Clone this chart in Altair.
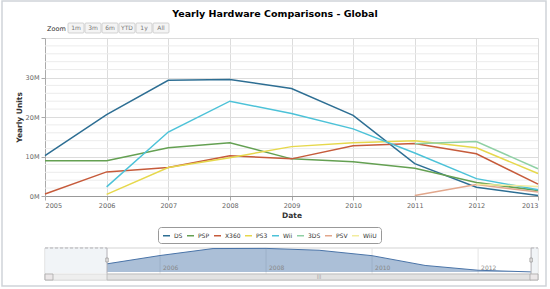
import altair as alt
import pandas as pd

# ---------------- data ----------------
years = [2005, 2006, 2007, 2008, 2009, 2010, 2011, 2012, 2013]
series_names = ["DS", "PSP", "X360", "PS3", "Wii", "3DS", "PSV", "WiiU"]
series_colors = ["#2d6e93", "#64a052", "#c65b3b", "#e6d84c", "#4cc2d8", "#8fd0a4", "#e2a78c", "#f2ec9e"]

ds   = [10.2, 20.6, 29.3, 29.5, 27.2, 20.4, 8.2, 2.2, 0.1]
psp  = [8.9, 8.9, 12.2, 13.5, 9.4, 8.7, 7.0, 3.4, 1.4]
x360 = [0.5, 6.1, 7.2, 10.2, 9.4, 12.7, 13.3, 10.7, 3.0]
ps3  = [None, 0.4, 7.2, 9.7, 12.5, 13.5, 14.0, 12.2, 5.7]
wii  = [None, 2.3, 16.2, 24.0, 20.9, 17.0, 10.9, 4.4, 1.6]
n3ds = [None, None, None, None, None, None, 13.2, 13.8, 6.9]
psv  = [None, None, None, None, None, None, 0.1, 2.9, 1.0]
wiiu = [None, None, None, None, None, None, None, 3.0, 2.4]

y_major = [0, 10, 20, 30, 40]
y_minor = [2, 4, 6, 8, 12, 14, 16, 18, 22, 24, 26, 28, 32, 34, 36, 38]
nav_ticks = [2006, 2008, 2010, 2012]
zoom_labels = ["1m", "3m", "6m", "YTD", "1y", "All"]
title_text = "Yearly Hardware Comparisons - Global"

all_series = [ds, psp, x360, ps3, wii, n3ds, psv, wiiu]
rows = []
for name, vals in zip(series_names, all_series):
    for yr, v in zip(years, vals):
        if v is not None:
            rows.append({"series": name, "year": yr, "value": v})
df = pd.DataFrame(rows)
nav_df = pd.DataFrame({"year": years, "value": ds})

FONT = "DejaVu Sans"
W, H = 493, 158
one = pd.DataFrame({"k": [0]})

# ---------------- main plot ----------------
xs = alt.Scale(domain=[2005, 2013], nice=False, zero=False)
ys = alt.Scale(domain=[0, 40], nice=False)

y_axis = alt.Axis(values=y_major, title="Yearly Units", grid=True, gridColor="#dcdcdc",
                  labelExpr="datum.value == 40 ? '' : datum.value + 'M'",
                  labelFont=FONT, labelFontSize=6.5, labelColor="#666", labelPadding=2,
                  tickSize=4, tickColor="#aaa", domainColor="#aaa",
                  titleFont=FONT, titleFontSize=7.5, titleFontWeight="bold", titleColor="#333",
                  titlePadding=2)
x_axis = alt.Axis(values=years, format="d", title="Date", grid=True, gridColor="#dcdcdc",
                  labelFont=FONT, labelFontSize=6.5, labelColor="#666", labelPadding=2,
                  tickSize=4, tickColor="#aaa", domainColor="#999",
                  titleFont=FONT, titleFontSize=7.5, titleFontWeight="bold", titleColor="#333",
                  titlePadding=3)

frame = alt.Chart(one).mark_rect(fill=None, stroke="#cfd4d9", strokeWidth=1.5).encode(
    x=alt.value(-43), x2=alt.value(501), y=alt.value(-37), y2=alt.value(248)
)

minor = alt.Chart(pd.DataFrame({"v": y_minor})).mark_rule(color="#ececec", strokeWidth=1).encode(
    y=alt.Y("v:Q", scale=ys, axis=y_axis)
)

lines = alt.Chart(df).mark_line(strokeWidth=1.5).encode(
    x=alt.X("year:Q", scale=xs, axis=x_axis),
    y=alt.Y("value:Q", scale=ys, axis=y_axis),
    color=alt.Color("series:N", scale=alt.Scale(domain=series_names, range=series_colors),
                    legend=alt.Legend(orient="none", legendX=113, legendY=189, direction="horizontal",
                                      title=None, symbolType="stroke", symbolStrokeWidth=1.5,
                                      symbolSize=49, labelFont=FONT, labelFontSize=6, labelColor="#333",
                                      labelOffset=3, columnPadding=1, padding=4,
                                      strokeColor="#999", cornerRadius=3, fillColor="white")),
    order=alt.Order("year:Q"),
)

title = alt.Chart(one).mark_text(text=title_text, font=FONT, fontSize=9.5, fontWeight="bold",
                                 color="#000", align="center", baseline="middle").encode(
    x=alt.value(230), y=alt.value(-24)
)

zoom_word = alt.Chart(one).mark_text(text="Zoom", font=FONT, fontSize=6.5, color="#333",
                                     align="left", baseline="middle").encode(
    x=alt.value(2), y=alt.value(-9)
)

btn_df = pd.DataFrame({"label": zoom_labels, "i": list(range(len(zoom_labels)))})
btn_base = alt.Chart(btn_df).transform_calculate(
    bx="23 + 17 * datum.i", bx2="23 + 17 * datum.i + 16", bc="23 + 17 * datum.i + 8"
)
btn_rect = btn_base.mark_rect(fill="#f4f4f4", stroke="#c8c8c8", strokeWidth=0.8, cornerRadius=1).encode(
    x=alt.X("bx:Q", scale=None), x2="bx2:Q", y=alt.value(-15), y2=alt.value(-5)
)
btn_text = btn_base.mark_text(font=FONT, fontSize=6, color="#777", baseline="middle").encode(
    x=alt.X("bc:Q", scale=None), y=alt.value(-10), text="label:N"
)

main = alt.layer(frame, minor, lines, title, zoom_word, btn_rect, btn_text)

# ---------------- navigator ----------------
nxs = alt.Scale(domain=[2003.83, 2013.13], nice=False, zero=False)
nys = alt.Scale(domain=[0, 30], range=[234, 210], nice=False)

nav_bg = alt.Chart(one).mark_rect(fill="#ffffff", stroke="#c8c8c8", strokeWidth=0.8).encode(
    x=alt.value(0), x2=alt.value(493), y=alt.value(210), y2=alt.value(242)
)
nav_grid = alt.Chart(pd.DataFrame({"year": nav_ticks})).mark_rule(color="#e4e4e4").encode(
    x=alt.X("year:Q", scale=nxs, axis=None), y=alt.value(210), y2=alt.value(236)
)
nav_lab = alt.Chart(pd.DataFrame({"year": nav_ticks})).mark_text(
    font=FONT, fontSize=6, color="#888", align="left", baseline="middle", dx=3).encode(
    x=alt.X("year:Q", scale=nxs, axis=None), y=alt.value(230), text=alt.Text("year:Q", format="d")
)
nav_area = alt.Chart(nav_df).mark_area(color="#4572a7", fillOpacity=0.45,
                                       line=alt.LineConfig(color="#4a74a8", strokeWidth=1)).encode(
    x=alt.X("year:Q", scale=nxs, axis=None), y=alt.Y("value:Q", scale=nys, axis=None)
)
mask_df = pd.DataFrame({"a": [2003.83, 2013], "b": [2005, 2013.13]})
nav_mask = alt.Chart(mask_df).mark_rect(fill="#eef1f5", opacity=0.8).encode(
    x=alt.X("a:Q", scale=nxs, axis=None), x2="b:Q", y=alt.value(210), y2=alt.value(235)
)
outline_df = pd.DataFrame({"a": [2003.83, 2013], "b": [2005, 2013.13]})
nav_outline_top = alt.Chart(outline_df).mark_rule(color="#b2b1b6", strokeDash=[3, 2]).encode(
    x=alt.X("a:Q", scale=nxs, axis=None), x2="b:Q", y=alt.value(210)
)
sel_df = pd.DataFrame({"year": [2005, 2013]})
nav_outline_v = alt.Chart(sel_df).mark_rule(color="#b2b1b6").encode(
    x=alt.X("year:Q", scale=nxs, axis=None), y=alt.value(210), y2=alt.value(242)
)
track = alt.Chart(one).mark_rect(fill="#eeeeee", stroke="#d8d8d8", strokeWidth=0.8).encode(
    x=alt.value(0), x2=alt.value(493), y=alt.value(236), y2=alt.value(242)
)
thumb_df = pd.DataFrame({"a": [2005], "b": [2013]})
thumb = alt.Chart(thumb_df).mark_rect(fill="#e2e2e2", stroke="#b8b8b8", strokeWidth=0.8).encode(
    x=alt.X("a:Q", scale=nxs, axis=None), x2="b:Q", y=alt.value(236), y2=alt.value(242)
)
grip_df = pd.DataFrame({"c": [2009]})
grip = alt.Chart(grip_df).mark_text(text="|||", font=FONT, fontSize=4.5, color="#888", baseline="middle").encode(
    x=alt.X("c:Q", scale=nxs, axis=None), y=alt.value(239)
)
arrow_btn = alt.Chart(pd.DataFrame({"p": [0, 485], "q": [8, 493]})).mark_rect(
    fill="#ebe7e8", stroke="#aaa", strokeWidth=0.8).encode(
    x=alt.X("p:Q", scale=None), x2="q:Q", y=alt.value(236), y2=alt.value(242)
)
handles = alt.Chart(sel_df).mark_point(
    shape="M-0.3,-0.5L0.3,-0.5L0.3,0.5L-0.3,0.5Z", size=64, filled=True,
    fill="#ebe7e8", stroke="#9a9a9a", strokeWidth=0.8, opacity=1).encode(
    x=alt.X("year:Q", scale=nxs, axis=None), y=alt.value(222)
)

nav = alt.layer(nav_bg, nav_grid, nav_area, nav_mask, nav_lab, nav_outline_top, nav_outline_v,
                track, thumb, grip, arrow_btn, handles)

chart = alt.layer(main, nav).resolve_scale(x="independent", y="independent").properties(
    width=W, height=H,
    autosize=alt.AutoSizeParams(type="none"),
    padding={"left": 45, "top": 38, "right": 12, "bottom": 93},
    background="white",
).configure_view(stroke=None)

chart.save("out.html", embed_options={"renderer": "svg", "actions": False})
